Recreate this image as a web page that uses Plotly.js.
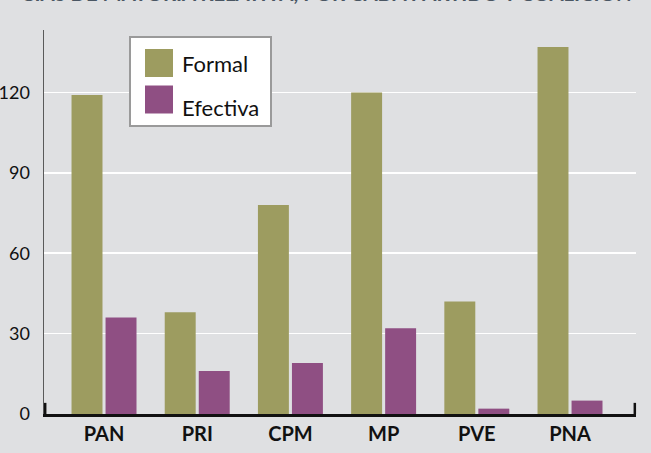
<!DOCTYPE html>
<html><head><meta charset="utf-8">
<script src="https://cdn.plot.ly/plotly-3.0.1.min.js"></script>
<style>html,body{margin:0;padding:0;background:#dfe0e2}</style>
</head><body><div id="chart" style="width:651px;height:453px"></div>
<script>
const categories = ['PAN', 'PRI', 'CPM', 'MP', 'PVE', 'PNA'];
const formal = [119, 38, 78, 120, 42, 137];
const efectiva = [36, 16, 19, 32, 2, 5];
const seriesNames = ['Formal', 'Efectiva'];
const yTicks = [0, 30, 60, 90, 120];
const titleText = 'CIAS DE MAYORÍA RELATIVA, POR CADA PARTIDO Y COALICIÓN';

const green = '#9d9c60';
const purple = '#8f4f83';
const font = 'Lato, "Open Sans", sans-serif';

const traces = [
  {type: 'bar', name: seriesNames[0], x: categories, y: formal, marker: {color: green}, legendgroup: 'a'},
  {type: 'bar', name: seriesNames[1], x: categories, y: efectiva, marker: {color: purple}, legendgroup: 'b'}
];

const layout = {
  width: 651, height: 453,
  margin: {l: 44, r: 15, t: 30, b: 39},
  paper_bgcolor: '#dfe0e2',
  plot_bgcolor: '#dfe0e2',
  barmode: 'group',
  bargap: 0.27,
  bargroupgap: 0.09,
  font: {family: font, color: '#111'},
  xaxis: {
    type: 'category',
    range: [-0.644, 5.708],
    showline: true, linecolor: '#111', linewidth: 3,
    ticks: '', showgrid: false, zeroline: false,
    tickfont: {family: font, size: 20, color: '#111', weight: 'bold'},
    fixedrange: true
  },
  yaxis: {
    range: [0, 143.3],
    tickvals: yTicks,
    ticktext: yTicks.map(String),
    showline: true, linecolor: '#5a5a5a', linewidth: 1.5,
    showgrid: true, gridcolor: '#ffffff', gridwidth: 1.5,
    zeroline: false, ticks: '',
    ticklabelstandoff: 9,
    tickfont: {family: font, size: 18, color: '#111'},
    fixedrange: true
  },
  legend: {
    x: 0.1436, y: 0.984, xanchor: 'left', yanchor: 'top',
    bgcolor: '#ffffff', bordercolor: '#9a9a9a', borderwidth: 2,
    font: {family: font, size: 22, color: '#111'},
    tracegroupgap: 8
  },
  annotations: [
    {text: titleText, xref: 'paper', yref: 'paper', x: -0.03, y: 1, xanchor: 'center', yanchor: 'bottom',
     showarrow: false, yshift: 23, xshift: 300,
     font: {family: font, size: 20.3, color: '#4a5663', weight: 'bold'}}
  ],
  shapes: [
    {type: 'line', xref: 'paper', yref: 'paper', x0: 0.002, x1: 0.002, y0: 0, y1: 0.029, line: {color: '#111', width: 2.5}, layer: 'above'},
    {type: 'line', xref: 'paper', yref: 'paper', x0: 0.998, x1: 0.998, y0: 0, y1: 0.029, line: {color: '#111', width: 2.5}, layer: 'above'}
  ]
};

Plotly.newPlot('chart', traces, layout, {displayModeBar: false, staticPlot: true}).then(function (gd) {
  try {
    const leg = gd.querySelector('.legend');
    if (!leg) return;
    leg.setAttribute('transform', 'translate(129,36)');
    const bg = leg.querySelector('rect.bg');
    bg.setAttribute('x', 1); bg.setAttribute('y', 1);
    bg.setAttribute('width', 141); bg.setAttribute('height', 89);
    const sb = leg.querySelector('.scrollbox');
    if (sb) sb.removeAttribute('clip-path');
    const targetY = [63, 99.5];
    leg.querySelectorAll('.traces').forEach(function (t, i) {
      t.setAttribute('transform', 'translate(0,' + (targetY[i] - 36) + ')');
      const p = t.querySelector('.legendpoints path');
      if (p) {
        p.setAttribute('d', 'M14,14H-14V-14H14Z');
        const r = p.getBoundingClientRect();
        const cx = r.left + r.width / 2, cy = r.top + r.height / 2;
        const prevP = p.getAttribute('transform') || '';
        p.setAttribute('transform', 'translate(' + (159 - cx) + ',' + (targetY[i] - cy) + ') ' + prevP);
      }
      const tx = t.querySelector('.legendtext');
      if (tx) {
        const r2 = tx.getBoundingClientRect();
        const prev = tx.getAttribute('transform') || '';
        tx.setAttribute('transform', 'translate(' + (182 - r2.left) + ',0) ' + prev);
      }
    });
  } catch (e) { console.log(e); }
});
</script>
</body></html>
